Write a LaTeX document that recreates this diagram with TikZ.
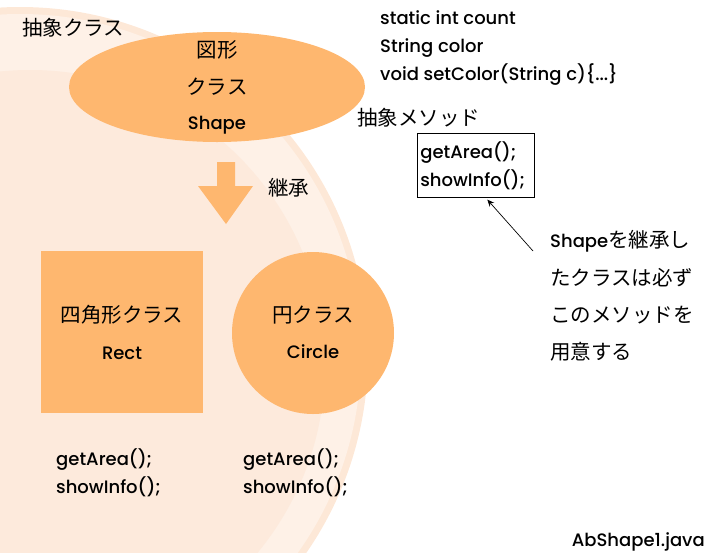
\documentclass[tikz,border=0pt]{standalone}
\usepackage{fontspec}
\setmainfont{Poppins}[UprightFont={* Medium}]
\newfontfamily\jpfont{Noto Sans CJK JP}
\usetikzlibrary{arrows, arrows.meta, shapes.geometric}
\definecolor{peach}{RGB}{254,183,111}
\definecolor{bgrim}{RGB}{253,232,215}
\definecolor{bgring}{RGB}{254,241,231}
\definecolor{bginner}{RGB}{253,234,220}

\begin{document}
\begin{tikzpicture}[x=1pt, y=-1pt]
\tikzstyle{code}=[font=\fontsize{18}{28}\selectfont, inner sep=0pt]
\tikzstyle{jp}=[font=\jpfont\fontsize{20.5}{24}\selectfont, inner sep=0pt]
\tikzstyle{cls}=[fill=peach, draw=none, inner sep=0pt]
\useasboundingbox (0,0) rectangle (717,552);

% background circles
\fill[bgrim] (20,355) circle (348pt);
\fill[bgring] (20,355) circle (341pt);
\fill[bginner] (30,365) circle (295pt);

\node[jp, anchor=west] (abstitle) at (22,28) {抽象クラス};

% abstract class
\node[cls, ellipse, minimum width=296pt, minimum height=110pt] (shape) at (217,87) {};
\node[jp] (shapefig) at (217,50) {図形};
\node[jp] (shapecls) at (217,87) {クラス};
\node[code] (shapename) at (217,125) {Shape};

% inheritance
\fill[peach] (217,162) -- (235,162) -- (235,186) -- (253,186) -- (226,224)
  -- (198,186) -- (217,186) -- cycle;
\node[jp, anchor=west] (inherit) at (268,188) {継承};

% subclasses
\node[cls, minimum width=162pt, minimum height=162pt] (rect) at (122,332) {};
\node[jp] (rectcls) at (122,315) {四角形クラス};
\node[code] (rectname) at (122,353) {Rect};
\node[cls, circle, minimum size=162pt] (circ) at (313,333) {};
\node[jp] (circcls) at (313,315) {円クラス};
\node[code] (circname) at (313,352) {Circle};

\node[code, anchor=west, align=left] (rectm) at (56,473) {getArea();\\showInfo();};
\node[code, anchor=west, align=left] (circm) at (243,473) {getArea();\\showInfo();};

% members of Shape
\node[code, anchor=west, align=left] (members) at (380,48)
  {static int count\\String color\\void setColor(String c)\{...\}};
\node[jp, anchor=west] (absmtitle) at (357,118) {抽象メソッド};
\node[code, draw, line width=0.6pt, anchor=north west, align=left,
  minimum width=117pt, minimum height=64pt, text width=111pt, inner sep=3pt]
  (absm) at (417,133) {getArea();\\showInfo();};

% note
\node[anchor=west, align=left, inner sep=0pt, font=\jpfont\fontsize{20.5}{37.3}\selectfont]
  (note) at (550,296)
  {{\rmfamily\fontsize{18}{37.3}\selectfont Shape}を継承し\\たクラスは必ず\\このメソッドを\\用意する};
\coordinate (tail) at (533,251);
\draw[-{Stealth[length=7pt, width=6pt]}, line width=0.7pt] (tail) -- ([xshift=11.5pt, yshift=-2pt]absm.south);

\node[code, anchor=east] (fname) at (705,542) {AbShape1.java};
\end{tikzpicture}
\end{document}
